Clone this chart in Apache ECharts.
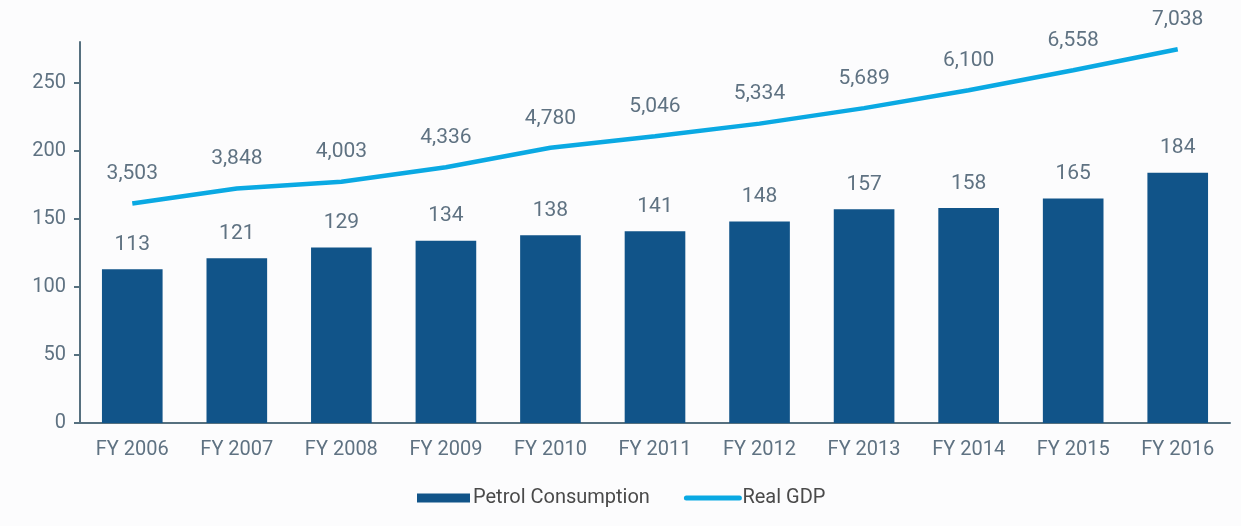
<!DOCTYPE html>
<html>
<head>
<meta charset="utf-8">
<script src="https://cdn.jsdelivr.net/npm/echarts@6/dist/echarts.min.js"></script>
<style>
  html, body { margin: 0; padding: 0; background: #fcfcfd; }
  #chart { width: 1241px; height: 526px; }
</style>
</head>
<body>
<div id="chart"></div>
<script>
const years = ["FY 2006", "FY 2007", "FY 2008", "FY 2009", "FY 2010", "FY 2011",
  "FY 2012", "FY 2013", "FY 2014", "FY 2015", "FY 2016"];
const petrol = [113, 121, 129, 134, 138, 141, 148, 157, 158, 165, 184];
const gdp = [3503, 3848, 4003, 4336, 4780, 5046, 5334, 5689, 6100, 6558, 7038];
const leftTicks = [0, 50, 100, 150, 200, 250];

const textColor = "#5f7282";
const font = "Roboto";

const chart = echarts.init(document.getElementById("chart"));
const option = {
  backgroundColor: "#fcfcfd",
  animation: false,
  grid: { left: 80, right: 11, top: 42, bottom: 103 },
  legend: {
    bottom: 13,
    left: 412,
    itemGap: 34,
    itemWidth: 53,
    itemHeight: 9,
    textStyle: { color: "#4a4a4a", fontSize: 20, fontFamily: font, padding: [0, 0, 0, -2] },
    data: [
      { name: "Petrol Consumption", icon: "rect" },
      { name: "Real GDP", itemStyle: { opacity: 0 }, lineStyle: { width: 5, cap: "round" } }
    ]
  },
  xAxis: {
    type: "category",
    data: years,
    axisLine: { lineStyle: { color: "#56707f", width: 2 } },
    axisTick: { show: false },
    axisLabel: { color: textColor, fontSize: 20, fontFamily: font, margin: 17 }
  },
  yAxis: [
    {
      type: "value",
      min: 0,
      max: 280,
      interval: 50,
      splitLine: { show: false },
      axisLine: { show: true, lineStyle: { color: "#56707f", width: 2 } },
      axisTick: { show: true, length: 6, customValues: leftTicks, lineStyle: { color: "#56707f", width: 2 } },
      axisLabel: { color: textColor, fontSize: 20, fontFamily: font, margin: 14, customValues: leftTicks }
    },
    {
      type: "value",
      min: -1524,
      max: 7204,
      show: false,
      splitLine: { show: false }
    }
  ],
  series: [
    {
      name: "Petrol Consumption",
      type: "bar",
      data: petrol,
      barWidth: "58%",
      itemStyle: { color: "#115489" },
      label: {
        show: true,
        position: "top",
        distance: 14,
        color: textColor,
        fontSize: 21,
        fontFamily: font
      }
    },
    {
      name: "Real GDP",
      type: "line",
      yAxisIndex: 1,
      data: gdp,
      symbol: "circle",
      symbolSize: 0,
      lineStyle: { color: "#0aa9e3", width: 4.5 },
      itemStyle: { color: "#0aa9e3" },
      label: {
        show: true,
        position: "top",
        distance: 19,
        color: textColor,
        fontSize: 21,
        fontFamily: font,
        formatter: p => p.value.toLocaleString("en-US")
      }
    }
  ]
};
chart.setOption(option);
</script>
</body>
</html>
